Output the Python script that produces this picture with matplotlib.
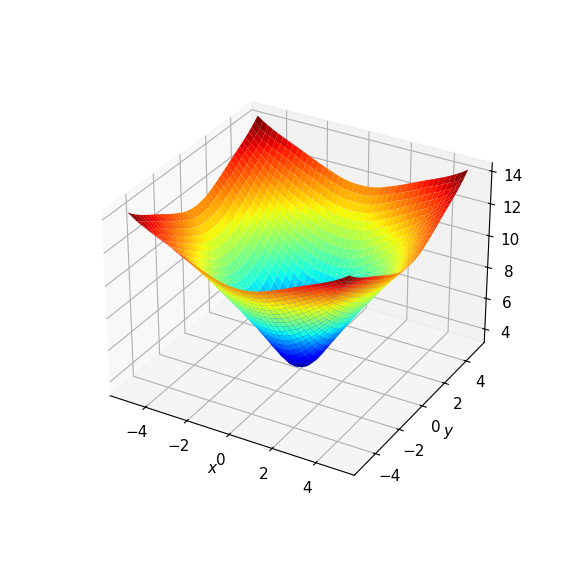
import numpy as np
import matplotlib
matplotlib.use('Agg')
import matplotlib.pyplot as plt

# grid positions along x and y, one quadrant (centre out to the edge)
coords = [0.0, 0.25, 0.5, 0.75, 1.0, 1.25, 1.5, 1.75, 2.0, 2.25, 2.5, 2.75, 3.0, 3.25, 3.5, 3.75, 4.0, 4.25, 4.5, 4.75, 5.0]

# surface height, one quadrant, the rest is its mirror image
z_quad = [
    [3.35, 3.42, 3.65, 4.0, 4.45, 4.95, 5.45, 5.95, 6.45, 6.92, 7.39, 7.87, 8.3, 8.73, 9.17, 9.61, 10.05, 10.44, 10.83, 11.21, 11.6],
    [3.42, 3.5, 3.7, 4.07, 4.5, 5.0, 5.49, 5.98, 6.48, 6.95, 7.41, 7.89, 8.32, 8.75, 9.19, 9.62, 10.06, 10.45, 10.84, 11.22, 11.61],
    [3.65, 3.7, 3.94, 4.27, 4.69, 5.15, 5.61, 6.09, 6.56, 7.02, 7.48, 7.94, 8.37, 8.8, 9.24, 9.67, 10.1, 10.49, 10.88, 11.27, 11.65],
    [4.0, 4.07, 4.27, 4.57, 4.95, 5.37, 5.8, 6.26, 6.69, 7.14, 7.59, 8.03, 8.46, 8.89, 9.31, 9.73, 10.17, 10.56, 10.95, 11.33, 11.71],
    [4.45, 4.5, 4.69, 4.95, 5.28, 5.65, 6.05, 6.48, 6.87, 7.3, 7.75, 8.16, 8.58, 9.0, 9.42, 9.85, 10.27, 10.66, 11.04, 11.44, 11.8],
    [4.95, 5.0, 5.15, 5.37, 5.65, 5.98, 6.35, 6.72, 7.09, 7.52, 7.92, 8.32, 8.73, 9.14, 9.57, 10.0, 10.4, 10.78, 11.17, 11.56, 11.92],
    [5.45, 5.49, 5.61, 5.8, 6.05, 6.35, 6.67, 7.0, 7.35, 7.75, 8.12, 8.51, 8.92, 9.32, 9.74, 10.17, 10.55, 10.93, 11.32, 11.71, 12.05],
    [5.95, 5.98, 6.09, 6.26, 6.48, 6.72, 7.0, 7.31, 7.63, 7.99, 8.34, 8.72, 9.11, 9.5, 9.92, 10.32, 10.69, 11.07, 11.46, 11.84, 12.18],
    [6.45, 6.48, 6.56, 6.69, 6.87, 7.09, 7.35, 7.63, 7.92, 8.25, 8.58, 8.95, 9.33, 9.71, 10.1, 10.48, 10.85, 11.23, 11.62, 11.96, 12.32],
    [6.92, 6.95, 7.02, 7.14, 7.3, 7.52, 7.75, 7.99, 8.25, 8.52, 8.84, 9.19, 9.56, 9.93, 10.29, 10.65, 11.03, 11.39, 11.76, 12.09, 12.47],
    [7.39, 7.41, 7.48, 7.59, 7.75, 7.92, 8.12, 8.34, 8.58, 8.84, 9.12, 9.46, 9.81, 10.15, 10.49, 10.84, 11.2, 11.56, 11.9, 12.25, 12.62],
    [7.87, 7.89, 7.94, 8.03, 8.16, 8.32, 8.51, 8.72, 8.95, 9.19, 9.46, 9.73, 10.06, 10.37, 10.69, 11.04, 11.39, 11.73, 12.05, 12.4, 12.77],
    [8.3, 8.32, 8.37, 8.46, 8.58, 8.73, 8.92, 9.11, 9.33, 9.56, 9.81, 10.06, 10.3, 10.59, 10.91, 11.24, 11.58, 11.89, 12.23, 12.57, 12.92],
    [8.73, 8.75, 8.8, 8.89, 9.0, 9.14, 9.32, 9.5, 9.71, 9.93, 10.15, 10.37, 10.59, 10.83, 11.15, 11.47, 11.77, 12.08, 12.42, 12.76, 13.06],
    [9.17, 9.19, 9.24, 9.31, 9.42, 9.57, 9.74, 9.92, 10.1, 10.29, 10.49, 10.69, 10.91, 11.15, 11.37, 11.65, 11.94, 12.26, 12.59, 12.89, 13.2],
    [9.61, 9.62, 9.67, 9.73, 9.85, 10.0, 10.17, 10.32, 10.48, 10.65, 10.84, 11.04, 11.24, 11.47, 11.65, 11.83, 12.14, 12.44, 12.74, 13.03, 13.35],
    [10.05, 10.06, 10.1, 10.17, 10.27, 10.4, 10.55, 10.69, 10.85, 11.03, 11.2, 11.39, 11.58, 11.77, 11.94, 12.14, 12.34, 12.63, 12.89, 13.19, 13.5],
    [10.44, 10.45, 10.49, 10.56, 10.66, 10.78, 10.93, 11.07, 11.23, 11.39, 11.56, 11.73, 11.89, 12.08, 12.26, 12.44, 12.63, 12.77, 13.07, 13.36, 13.67],
    [10.83, 10.84, 10.88, 10.95, 11.04, 11.17, 11.32, 11.46, 11.62, 11.76, 11.9, 12.05, 12.23, 12.42, 12.59, 12.74, 12.89, 13.07, 13.21, 13.51, 13.85],
    [11.21, 11.22, 11.27, 11.33, 11.44, 11.56, 11.71, 11.84, 11.96, 12.09, 12.25, 12.4, 12.57, 12.76, 12.89, 13.03, 13.19, 13.36, 13.51, 13.68, 14.05],
    [11.6, 11.61, 11.65, 11.71, 11.8, 11.92, 12.05, 12.18, 12.32, 12.47, 12.62, 12.77, 12.92, 13.06, 13.2, 13.35, 13.5, 13.67, 13.85, 14.05, 14.28],
]

c = np.array(coords)
axis_vals = np.concatenate((-c[:0:-1], c))
q = np.array(z_quad)
top = np.hstack((q[:, :0:-1], q))
Z = np.vstack((top[:0:-1], top))
X, Y = np.meshgrid(axis_vals, axis_vals)

plt.rcParams['font.size'] = 11

fig = plt.figure(figsize=(5.76, 5.76), dpi=100)
ax = fig.add_subplot(projection='3d')
ax.plot_surface(X, Y, Z, cmap='jet', rstride=1, cstride=1, linewidth=0, antialiased=True)
ax.set_xlabel('$x$', labelpad=-3)
ax.set_ylabel('$y$', labelpad=-3)
ax.set_xticks([-4, -2, 0, 2, 4])
ax.set_yticks([-4, -2, 0, 2, 4])
ax.set_zticks([4, 6, 8, 10, 12, 14])
ax.tick_params(pad=1.5)
ax.set_box_aspect(None, zoom=0.98)
ax.set_position([0.124, 0.119, 0.775, 0.77])

plt.savefig('out.png', dpi=100)
